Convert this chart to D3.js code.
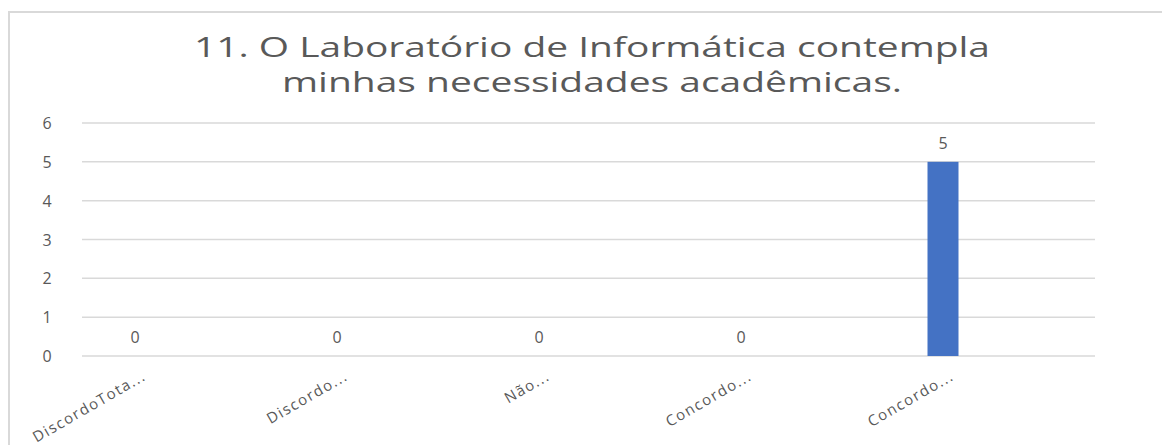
<!DOCTYPE html>
<html lang="pt">
<head>
<meta charset="UTF-8">
<title>11. O Laboratório de Informática contempla minhas necessidades acadêmicas.</title>
<script src="https://d3js.org/d3.v7.min.js"></script>
<style>
  body { margin: 0; background: #fff; }
  text { font-family: "Open Sans", "Noto Sans", sans-serif; fill: #595959; }
</style>
</head>
<body>
<div id="chart"></div>
<script>
// Dados do gráfico
const categorias = ["DiscordoTota...", "Discordo...", "Não...", "Concordo...", "Concordo..."];
const valores = [0, 0, 0, 0, 5];
const ticksY = [0, 1, 2, 3, 4, 5, 6];
const tituloLinhas = ["11. O Laboratório de Informática contempla", "minhas necessidades acadêmicas."];

const W = 1162, H = 445;
const svg = d3.select("#chart").append("svg")
    .attr("width", W)
    .attr("height", H);

// Borda da área do gráfico (cortada à direita e em baixo)
svg.append("rect")
    .attr("x", 9).attr("y", 12)
    .attr("width", 1200).attr("height", 500)
    .attr("fill", "#fff")
    .attr("stroke", "#d9d9d9")
    .attr("stroke-width", 2);

// Título
svg.selectAll("text.titulo")
    .data(tituloLinhas)
    .enter().append("text")
    .attr("class", "titulo")
    .attr("x", 592)
    .attr("y", (d, i) => 57 + i * 35)
    .attr("text-anchor", "middle")
    .attr("textLength", (d, i) => i === 0 ? 796 : 620)
    .attr("lengthAdjust", "spacingAndGlyphs")
    .style("font-size", "27px")
    .text(d => d);

// Escalas
const y = d3.scaleLinear().domain([0, 6]).range([356, 123]);
const x = d3.scalePoint().domain(d3.range(categorias.length)).range([135, 943]);
const gridX0 = 82, gridX1 = 1095;
const barW = 31;

// Linhas de grade
svg.append("g")
    .selectAll("line")
    .data(ticksY)
    .enter().append("line")
    .attr("x1", gridX0).attr("x2", gridX1)
    .attr("y1", d => y(d)).attr("y2", d => y(d))
    .attr("stroke", "#d9d9d9")
    .attr("stroke-width", 1.5);

// Rótulos do eixo Y
svg.append("g")
    .selectAll("text")
    .data(ticksY)
    .enter().append("text")
    .attr("x", 47)
    .attr("y", d => y(d) + 6)
    .attr("text-anchor", "middle")
    .style("font-size", "16px")
    .text(d => d);

// Barras
svg.append("g")
    .selectAll("rect")
    .data(valores)
    .enter().append("rect")
    .attr("x", (d, i) => x(i) - barW / 2)
    .attr("y", d => y(d))
    .attr("width", barW)
    .attr("height", d => y(0) - y(d))
    .attr("fill", "#4472c4");

// Rótulos de dados
svg.append("g")
    .selectAll("text")
    .data(valores)
    .enter().append("text")
    .attr("x", (d, i) => x(i))
    .attr("y", d => y(d) - 13)
    .attr("text-anchor", "middle")
    .style("font-size", "16px")
    .text(d => d);

// Rótulos das categorias (inclinados)
svg.append("g")
    .selectAll("text")
    .data(categorias)
    .enter().append("text")
    .attr("text-anchor", "end")
    .attr("transform", (d, i) => `translate(${x(i) + 12},${379}) rotate(-30)`)
    .style("font-size", "15px")
    .style("letter-spacing", "1.5px")
    .text(d => d);
</script>
</body>
</html>
